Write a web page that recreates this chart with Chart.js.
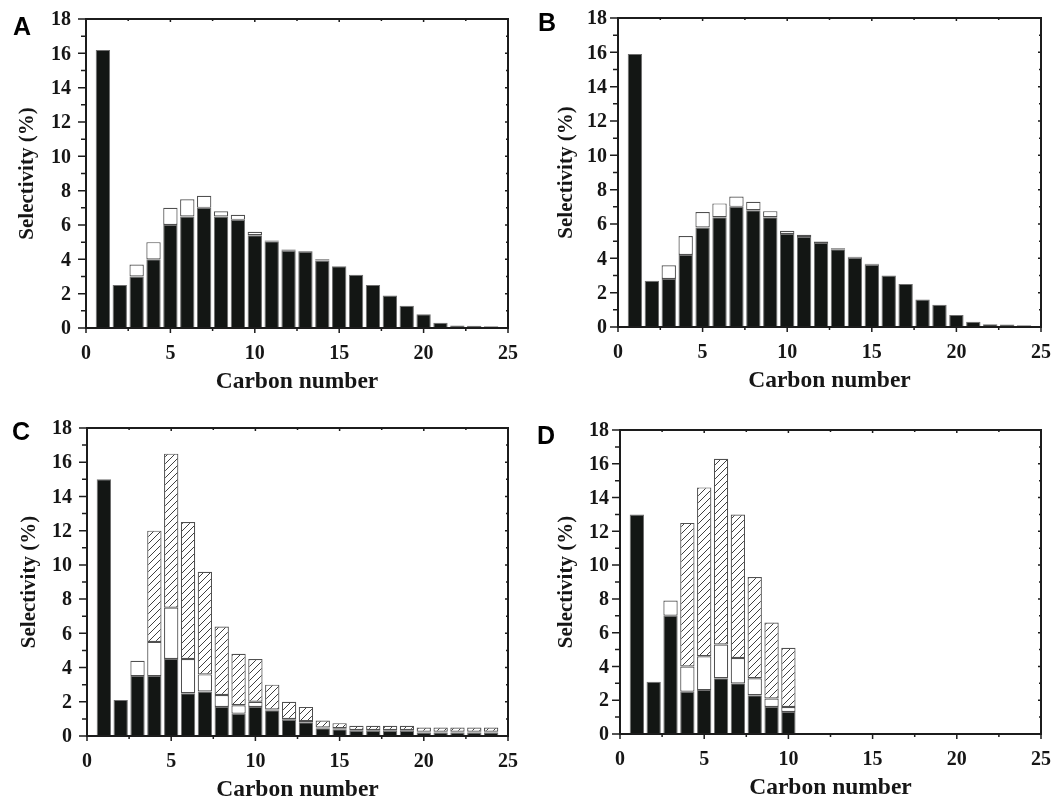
<!DOCTYPE html>
<html><head><meta charset="utf-8">
<script src="https://cdn.jsdelivr.net/npm/chart.js@4"></script>
<style>
html,body{margin:0;padding:0;background:#fff;width:1051px;height:796px;overflow:hidden}
canvas{position:absolute}
</style></head><body>
<canvas id="cA" width="530" height="398" style="left:0px;top:0px"></canvas>
<canvas id="cB" width="521" height="398" style="left:530px;top:0px"></canvas>
<canvas id="cC" width="530" height="398" style="left:0px;top:398px"></canvas>
<canvas id="cD" width="521" height="398" style="left:530px;top:398px"></canvas>
<script>
// ---- data ----
const carbon = [1,2,3,4,5,6,7,8,9,10,11,12,13,14,15,16,17,18,19,20,21,22,23,24];
const xTickLabels = [0,5,10,15,20,25];
const yTickLabels = [0,2,4,6,8,10,12,14,16,18];
const xTitle = 'Carbon number';
const yTitle = 'Selectivity (%)';

// Panel A (segment heights)
const aBlack = [16.2,2.5,3.0,4.0,6.0,6.5,7.0,6.5,6.3,5.4,5.05,4.5,4.42,3.93,3.6,3.1,2.5,1.9,1.3,0.8,0.3,0.15,0.13,0.1];
const aWhite = [0,0,0.7,1.0,1.0,1.0,0.7,0.3,0.3,0.2,0.05,0.08,0.05,0.07,0,0,0,0,0,0,0,0,0,0];
// Panel B
const bBlack = [15.9,2.7,2.8,4.2,5.8,6.4,7.0,6.8,6.4,5.42,5.24,4.9,4.53,4.04,3.63,3.0,2.5,1.6,1.3,0.7,0.31,0.16,0.14,0.1];
const bWhite = [0,0,0.8,1.1,0.9,0.8,0.6,0.5,0.35,0.18,0.14,0.08,0.06,0.05,0.06,0,0,0,0,0,0,0,0,0];
// Panel C
const cBlack = [15.0,2.1,3.5,3.5,4.5,2.5,2.6,1.7,1.3,1.7,1.5,0.95,0.8,0.45,0.4,0.3,0.3,0.3,0.3,0.2,0.2,0.2,0.2,0.2];
const cWhite = [0,0,0.9,2.0,3.0,2.0,1.0,0.7,0.5,0.3,0.05,0.05,0.07,0.05,0.05,0.05,0.05,0.05,0.05,0.05,0.05,0.05,0.05,0.05];
const cHatch = [0,0,0,6.5,9.0,8.0,6.0,4.0,3.0,2.5,1.45,1.0,0.83,0.4,0.3,0.25,0.25,0.25,0.25,0.25,0.25,0.25,0.25,0.25];
// Panel D
const dBlack = [13.0,3.1,7.0,2.5,2.6,3.3,3.0,2.3,1.6,1.3];
const dWhite = [0,0,0.9,1.5,2.0,2.0,1.5,1.0,0.5,0.3];
const dHatch = [0,0,0,8.5,10.0,11.0,8.5,6.0,4.5,3.5];

// ---- helpers ----
function hatchPattern(ctx){
  const c=document.createElement('canvas'); c.width=7; c.height=7;
  const g=c.getContext('2d');
  g.fillStyle='#fff'; g.fillRect(0,0,7,7);
  g.strokeStyle='#2a2a2a'; g.lineWidth=0.9;
  g.beginPath();
  g.moveTo(0,7); g.lineTo(7,0);
  g.moveTo(-1,1); g.lineTo(1,-1);
  g.moveTo(6,8); g.lineTo(8,6);
  g.stroke();
  return ctx.createPattern(c,'repeat');
}
function pts(vals){ return vals.map((v,i)=>({x:carbon[i], y:v})); }

const axesPlugin = {
  id:'axes',
  afterDraw(chart, args, p){
    const ctx=chart.ctx, a=chart.chartArea, xs=chart.scales.x, ys=chart.scales.y;
    const ox=p.ox, oy=p.oy;
    ctx.save();
    ctx.strokeStyle='#1c1c1c'; ctx.lineWidth=2;
    ctx.strokeRect(a.left, a.top, a.right-a.left, a.bottom-a.top);
    ctx.lineWidth=1.5;
    ctx.beginPath();
    for(let v=0; v<=25; v+=2.5){
      const x=xs.getPixelForValue(v), major=(v%5===0);
      ctx.moveTo(x,a.bottom); ctx.lineTo(x,a.bottom+(major?5:3));
      ctx.moveTo(x,a.top); ctx.lineTo(x,a.top+(major?3:2));
    }
    for(let v=0; v<=18; v+=1){
      const y=ys.getPixelForValue(v), major=(v%2===0);
      ctx.moveTo(a.left,y); ctx.lineTo(a.left-(major?8:5),y);
      ctx.moveTo(a.right,y); ctx.lineTo(a.right-(major?3:2),y);
    }
    ctx.stroke();
    ctx.fillStyle='#161616';
    ctx.font='bold 20px "Liberation Serif", "Times New Roman", serif';
    ctx.textAlign='center'; ctx.textBaseline='middle';
    xTickLabels.forEach(v=>ctx.fillText(String(v), xs.getPixelForValue(v), a.bottom+26));
    ctx.textAlign='right';
    yTickLabels.forEach(v=>ctx.fillText(String(v), p.yLabelRight-ox, ys.getPixelForValue(v)+1));
    ctx.font='bold 23.5px "Liberation Serif", "Times New Roman", serif';
    ctx.textAlign='center';
    ctx.fillText(xTitle, (a.left+a.right)/2, a.bottom+54);
    ctx.font='bold 21px "Liberation Serif", "Times New Roman", serif';
    ctx.save();
    ctx.translate(p.yTitleX-ox, (a.top+a.bottom)/2);
    ctx.rotate(-Math.PI/2);
    ctx.fillText(yTitle, 0, 0);
    ctx.restore();
    ctx.font='bold 25px "Liberation Sans", Arial, sans-serif';
    ctx.fillStyle='#000';
    ctx.fillText(p.letter, p.letterX-ox, p.letterY-oy);
    ctx.restore();
  }
};

const panels = [
  {id:'cA', ox:0, oy:0, pad:{left:86, top:19, right:22, bottom:70}, letter:'A', letterX:22, letterY:28, yTitleX:28, yLabelRight:71, series:[aBlack,aWhite]},
  {id:'cB', ox:530, oy:0, pad:{left:88, top:18, right:10, bottom:71}, letter:'B', letterX:547, letterY:24, yTitleX:567, yLabelRight:607, series:[bBlack,bWhite]},
  {id:'cC', ox:0, oy:398, pad:{left:87, top:30, right:22, bottom:60}, letter:'C', letterX:21, letterY:433, yTitleX:30, yLabelRight:72, series:[cBlack,cWhite,cHatch]},
  {id:'cD', ox:530, oy:398, pad:{left:90, top:32, right:10, bottom:62}, letter:'D', letterX:546, letterY:437, yTitleX:567, yLabelRight:609, series:[dBlack,dWhite,dHatch]}
];

panels.forEach(P=>{
  const el=document.getElementById(P.id);
  const ctx=el.getContext('2d');
  const styles=[
    {backgroundColor:'#131614', borderColor:'#6e6e6e', borderWidth:1},
    {backgroundColor:'#ffffff', borderColor:'#505050', borderWidth:1.2},
    {backgroundColor:hatchPattern(ctx), borderColor:'#505050', borderWidth:1.2}
  ];
  const datasets=P.series.map((s,i)=>Object.assign({
    data:pts(s), barPercentage:0.85, categoryPercentage:1, borderSkipped:false, stack:'s'
  }, styles[i]));
  new Chart(ctx,{
    type:'bar',
    data:{datasets},
    options:{
      responsive:false, animation:false, devicePixelRatio:1,
      layout:{padding:P.pad},
      plugins:{legend:{display:false}, tooltip:{enabled:false},
        axes:{ox:P.ox, oy:P.oy, letter:P.letter, letterX:P.letterX, letterY:P.letterY, yTitleX:P.yTitleX, yLabelRight:P.yLabelRight}},
      scales:{
        x:{type:'linear', min:0, max:25, offset:false, stacked:true, display:false},
        y:{type:'linear', min:0, max:18, stacked:true, display:false}
      }
    },
    plugins:[axesPlugin]
  });
});
</script>
</body></html>
